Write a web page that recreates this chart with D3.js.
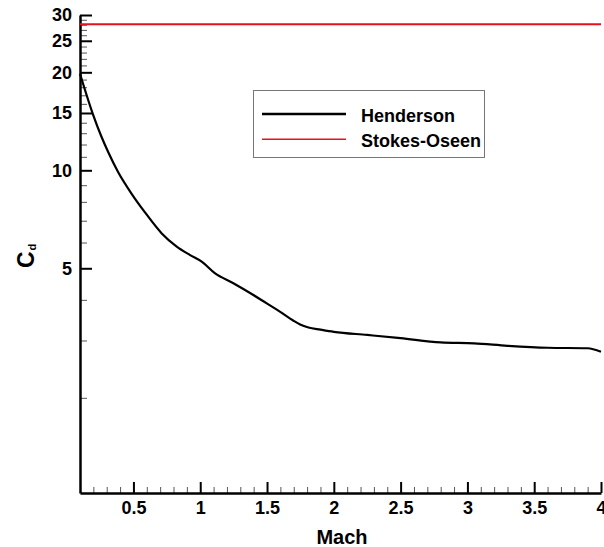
<!DOCTYPE html>
<html>
<head>
<meta charset="utf-8">
<script src="https://cdn.jsdelivr.net/npm/d3@7"></script>
<style>
  html, body { margin: 0; padding: 0; background: #fff; }
  svg { display: block; font-family: "Liberation Sans", Arial, Helvetica, sans-serif; }
</style>
</head>
<body>
<svg id="chart" width="604" height="547"></svg>
<script>
// ---- data ----
const machValues = [0.1, 0.197, 0.26, 0.31, 0.385, 0.484, 0.585, 0.712, 0.824, 0.924, 1.011, 1.109, 1.248, 1.398, 1.498, 1.596, 1.698, 1.748, 1.81, 1.9, 2.0, 2.25, 2.5, 2.8, 3.05, 3.3, 3.6, 3.9, 4.0];
const hendersonCd = [19.8, 14.86, 12.7, 11.4, 9.88, 8.5, 7.44, 6.40, 5.83, 5.49, 5.24, 4.83, 4.50, 4.14, 3.90, 3.68, 3.45, 3.36, 3.29, 3.24, 3.19, 3.12, 3.05, 2.96, 2.94, 2.89, 2.85, 2.84, 2.77];
const stokesMach = [0.1, 4.0];
const stokesCd = [28.1, 28.1];
const xTickValues = [0.5, 1, 1.5, 2, 2.5, 3, 3.5, 4];
const xTickLabels = ["0.5", "1", "1.5", "2", "2.5", "3", "3.5", "4"];
const xMinorTicks = [0.2, 0.3, 0.4, 0.6, 0.7, 0.8, 0.9, 1.1, 1.2, 1.3, 1.4, 1.6, 1.7, 1.8, 1.9, 2.1, 2.2, 2.3, 2.4, 2.6, 2.7, 2.8, 2.9, 3.1, 3.2, 3.3, 3.4, 3.6, 3.7, 3.8, 3.9];
const yTickValues = [5, 10, 15, 20, 25, 30];
const yTickLabels = ["5", "10", "15", "20", "25", "30"];
const yMinorTicks = [2, 3, 4, 6, 7, 8, 9, 11, 12, 13, 14, 16, 17, 18, 19, 21, 22, 23, 24, 26, 27, 28, 29];
const seriesNames = ["Henderson", "Stokes-Oseen"];
const seriesColors = ["#000000", "#e8101c"];

// ---- scales ----
const svg = d3.select("#chart");
const x = d3.scaleLinear().domain([0.1, 4]).range([80, 601]);
const y = d3.scaleLog().domain([1.02, 30]).range([493, 15]);

// ---- axes ----
const yMinorAxis = d3.axisLeft(y).tickValues(yMinorTicks).tickSizeInner(-7).tickSizeOuter(0).tickFormat("");
const gyMinor = svg.append("g").attr("transform", "translate(80,0)").call(yMinorAxis);
gyMinor.select(".domain").remove();
gyMinor.selectAll(".tick line").attr("stroke", "#555").attr("stroke-width", 1);

const yAxis = d3.axisLeft(y).tickValues(yTickValues).tickSizeInner(-12).tickSizeOuter(0)
  .tickPadding(8).tickFormat((d, i) => yTickLabels[i]);
const gy = svg.append("g").attr("transform", "translate(80,0)").call(yAxis);
gy.select(".domain").attr("stroke", "#000").attr("stroke-width", 2.5);
gy.selectAll(".tick line").attr("stroke", "#000").attr("stroke-width", 2);
gy.selectAll(".tick text").attr("font-size", "18px").attr("font-weight", "bold").attr("fill", "#000")
  .attr("font-family", "'Liberation Sans', Arial, sans-serif");

const xMinorAxis = d3.axisBottom(x).tickValues(xMinorTicks).tickSizeInner(-6).tickSizeOuter(0).tickFormat("");
const gxMinor = svg.append("g").attr("transform", "translate(0,493)").call(xMinorAxis);
gxMinor.select(".domain").remove();
gxMinor.selectAll(".tick line").attr("stroke", "#555").attr("stroke-width", 1);

const xAxis = d3.axisBottom(x).tickValues(xTickValues).tickSizeInner(-11).tickSizeOuter(0)
  .tickPadding(8).tickFormat((d, i) => xTickLabels[i]);
const gx = svg.append("g").attr("transform", "translate(0,493)").call(xAxis);
gx.select(".domain").attr("stroke", "#000").attr("stroke-width", 2.5);
gx.selectAll(".tick line").attr("stroke", "#000").attr("stroke-width", 2);
gx.selectAll(".tick text").attr("font-size", "18px").attr("font-weight", "bold").attr("fill", "#000")
  .attr("font-family", "'Liberation Sans', Arial, sans-serif");

// ---- axis titles ----
svg.append("text").attr("x", 342).attr("y", 544).attr("text-anchor", "middle")
  .attr("font-size", "20px").attr("font-weight", "bold").text("Mach");

const yt = svg.append("text").attr("transform", "translate(34,268) rotate(-90)")
  .attr("font-weight", "bold");
yt.append("tspan").attr("font-size", "23px").text("C");
yt.append("tspan").attr("font-size", "11px").attr("dy", 2).attr("dx", 1).text("d");

// ---- lines ----
const line = d3.line().x(d => x(d[0])).y(d => y(d[1])).curve(d3.curveMonotoneX);
svg.append("path").datum(stokesMach.map((m, i) => [m, stokesCd[i]]))
  .attr("d", line).attr("fill", "none").attr("stroke", seriesColors[1]).attr("stroke-width", 2);
svg.append("path").datum(machValues.map((m, i) => [m, hendersonCd[i]]))
  .attr("d", line).attr("fill", "none").attr("stroke", seriesColors[0]).attr("stroke-width", 2.2);

// ---- legend ----
const lg = svg.append("g").attr("transform", "translate(253,90)");
lg.append("rect").attr("x", 0.5).attr("y", 0.5).attr("width", 231).attr("height", 67)
  .attr("fill", "#fff").attr("stroke", "#777").attr("stroke-width", 1);
seriesNames.forEach((name, i) => {
  const yy = 24 + i * 25.3;
  lg.append("line").attr("x1", 9).attr("x2", 93).attr("y1", yy).attr("y2", yy)
    .attr("stroke", seriesColors[i]).attr("stroke-width", i === 0 ? 2.5 : 1.6);
  lg.append("text").attr("x", 108).attr("y", yy + 7.5).attr("font-size", "18px")
    .attr("font-weight", "bold").text(name);
});
</script>
</body>
</html>
